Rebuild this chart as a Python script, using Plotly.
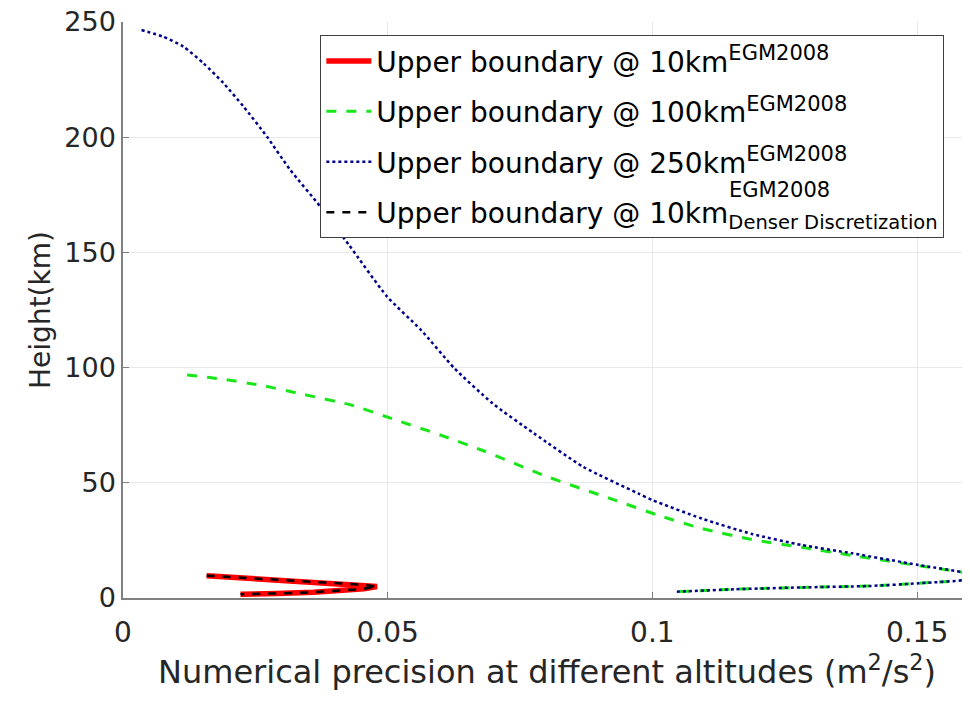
import plotly.graph_objects as go

# ---- data ----
red_x = [0.0158, 0.0230, 0.0297, 0.0392, 0.0450, 0.0480, 0.0455, 0.0424, 0.0360, 0.0290, 0.0222]
red_y = [9.7, 8.7, 7.8, 6.6, 5.8, 5.0, 4.0, 3.4, 2.5, 2.0, 1.6]

dense_x = [0.0158, 0.0230, 0.0297, 0.0392, 0.0450, 0.0480, 0.0455, 0.0424, 0.0360, 0.0290, 0.0222]
dense_y = [9.7, 8.7, 7.8, 6.6, 5.8, 5.0, 4.0, 3.4, 2.5, 2.0, 1.6]

green_x = [0.0121, 0.0177, 0.0259, 0.0340, 0.0430, 0.0515, 0.0600, 0.0682, 0.0802, 0.0929,
           0.1010, 0.1093, 0.1188, 0.1282, 0.1377, 0.1503, 0.1604,
           0.1604, 0.1503, 0.1408, 0.1282, 0.1156, 0.1044]
green_y = [96.8, 95.3, 92.4, 88.4, 83.8, 77.3, 70.7, 63.8, 52.6, 42.5,
           36.0, 30.2, 25.4, 22.0, 18.5, 14.0, 10.0,
           8.5, 6.4, 5.2, 4.6, 3.8, 2.7]

blue_x = [0.0035, 0.0076, 0.0114, 0.0152, 0.0190, 0.0228, 0.0272, 0.0316, 0.0373, 0.0427,
          0.0499, 0.0563, 0.0626, 0.0698, 0.0776, 0.0869, 0.0973, 0.1000, 0.1093, 0.1188,
          0.1282, 0.1377, 0.1503, 0.1604,
          0.1604, 0.1503, 0.1408, 0.1282, 0.1156, 0.1044]
blue_y = [246.5, 243.6, 239.3, 232.1, 223.4, 213.2, 200.2, 185.8, 169.8, 153.2,
          130.8, 116.3, 99.7, 84.5, 71.5, 57.0, 45.4, 42.5, 34.5, 27.8,
          23.0, 19.4, 14.3, 10.0,
          8.5, 6.4, 5.2, 4.6, 3.8, 2.7]

x_ticks = [0, 0.05, 0.1, 0.15]
x_tick_labels = ["0", "0.05", "0.1", "0.15"]
y_ticks = [0, 50, 100, 150, 200, 250]

FONT = "DejaVu Sans"
LEG = 28
SUP = "<sup><span style='font-size:21px'>EGM2008</span></sup>"
SUB = "<sub><span style='font-size:19.5px'>Denser Discretization</span></sub>"

fig = go.Figure()
fig.add_trace(go.Scatter(x=red_x, y=red_y, mode="lines", legendgroup="a",
                         line=dict(color="#ff0000", width=5.5),
                         name="Upper boundary @ 10km" + SUP))
fig.add_trace(go.Scatter(x=green_x, y=green_y, mode="lines", legendgroup="b",
                         line=dict(color="#19e619", width=3, dash="10px,10px",
                                   shape="spline", smoothing=0.6),
                         name="Upper boundary @ 100km" + SUP))
fig.add_trace(go.Scatter(x=blue_x, y=blue_y, mode="lines", legendgroup="c",
                         line=dict(color="#00008b", width=2.5, dash="dot",
                                   shape="spline", smoothing=0.6),
                         name="Upper boundary @ 250km" + SUP))
fig.add_trace(go.Scatter(x=dense_x, y=dense_y, mode="lines", legendgroup="d",
                         line=dict(color="#000000", width=2.5, dash="8px,8px"),
                         name="Upper boundary @ 10km" + SUB))

# the page body has an 8px margin, so the figure is sized/offset to compensate
fig.update_layout(
    width=962, height=700,
    margin=dict(l=115, r=0, t=14, b=110),
    paper_bgcolor="white", plot_bgcolor="white",
    font=dict(family=FONT, color="#262626"),
    showlegend=True,
    legend=dict(x=0.233, y=0.977, xanchor="left", yanchor="top",
                bgcolor="white", bordercolor="#404040", borderwidth=1,
                font=dict(family=FONT, size=LEG, color="#000000"),
                itemwidth=45, tracegroupgap=11),
    xaxis=dict(range=[0, 0.16], tickvals=x_ticks, ticktext=x_tick_labels,
               automargin=False, ticklabelstandoff=9, ticklabeloverflow="allow",
               showgrid=True, gridcolor="#e8e8e8", gridwidth=1,
               showline=True, linecolor="#808080", linewidth=1.5,
               ticks="inside", ticklen=6, tickcolor="#808080",
               tickfont=dict(family=FONT, size=28, color="#262626"),
               zeroline=False),
    yaxis=dict(range=[0, 250], tickvals=y_ticks, automargin=False,
               ticksuffix="\u2009", ticklabeloverflow="allow",
               showgrid=True, gridcolor="#e8e8e8", gridwidth=1,
               showline=True, linecolor="#808080", linewidth=1.5,
               ticks="inside", ticklen=6, tickcolor="#808080",
               tickfont=dict(family=FONT, size=27, color="#262626"),
               zeroline=False,
               title=dict(text="Height(km)", font=dict(family=FONT, size=28, color="#262626"),
                          standoff=6)),
)

# x-axis title placed as an annotation so it can sit as close to the ticks as in the reference
fig.add_annotation(text="Numerical precision at different altitudes (m<sup>2</sup>/s<sup>2</sup>)",
                   xref="paper", yref="paper", x=0.5, y=-0.125,
                   xanchor="center", yanchor="middle", showarrow=False,
                   font=dict(family=FONT, size=32, color="#262626"))

fig.add_annotation(text="EGM2008", xref="paper", yref="paper",
                   x=0.713, y=0.708, xanchor="left", yanchor="middle",
                   showarrow=False, font=dict(family=FONT, size=21, color="#000000"))

fig.write_html("out.html")
